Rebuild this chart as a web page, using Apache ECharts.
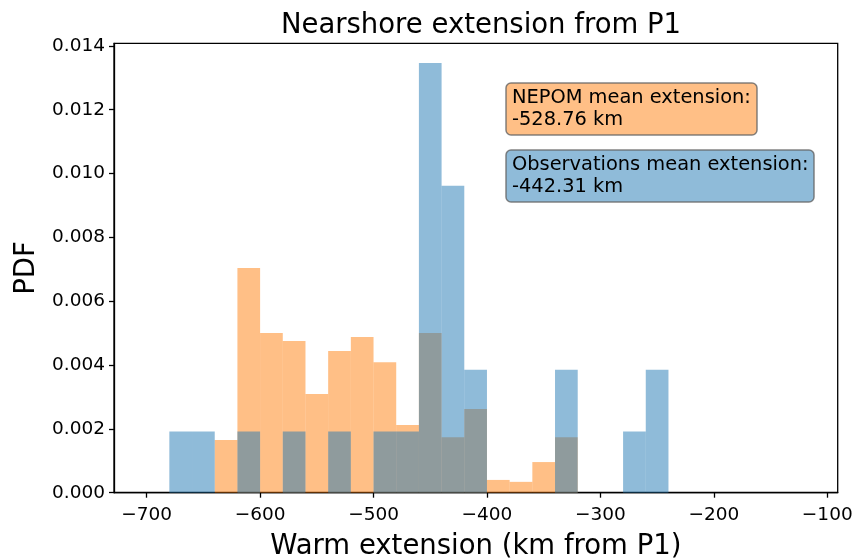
<!DOCTYPE html>
<html>
<head>
<meta charset="utf-8">
<script src="https://cdn.jsdelivr.net/npm/echarts@6/dist/echarts.min.js"></script>
<style>
  html, body { margin: 0; padding: 0; background: #fff; }
  #chart { width: 858px; height: 558px; }
</style>
</head>
<body>
<div id="chart"></div>
<script>
// Histogram bin width (km)
const binWidth = 20;

// NEPOM model: left bin edges (km from P1) and probability density
const nepomLeft = [-640, -620, -600, -580, -560, -540, -520, -500, -480, -460, -440, -420, -400, -380, -360, -340];
const nepomPdf  = [0.00165, 0.00704, 0.00500, 0.00475, 0.00309, 0.00444, 0.00488, 0.00409, 0.00212, 0.00500, 0.00174, 0.00262, 0.00040, 0.00034, 0.00096, 0.00174];

// Observations: left bin edges (km from P1) and probability density
const obsLeft = [-680, -660, -620, -580, -540, -500, -480, -460, -440, -420, -340, -280, -260];
const obsPdf  = [0.00192, 0.00192, 0.00192, 0.00192, 0.00192, 0.00192, 0.00192, 0.01346, 0.00962, 0.00385, 0.00385, 0.00192, 0.00385];

// Mean extensions (km)
const nepomMean = -528.76;
const obsMean = -442.31;

// Axis ticks
const xTicks = [-700, -600, -500, -400, -300, -200, -100];
const yTicks = [0, 0.002, 0.004, 0.006, 0.008, 0.010, 0.012, 0.014];

const FONT = '"DejaVu Sans", sans-serif';
const ORANGE = 'rgba(255,127,14,0.5)';
const BLUE = 'rgba(31,119,180,0.5)';

function toBars(left, pdf) {
  return left.map((x, i) => [x, x + binWidth, pdf[i]]);
}

function renderBar(params, api) {
  const p0 = api.coord([api.value(0), api.value(2)]);
  const p1 = api.coord([api.value(1), 0]);
  return {
    type: 'rect',
    shape: { x: p0[0], y: p0[1], width: p1[0] - p0[0], height: p1[1] - p0[1] },
    style: { fill: api.visual('color') }
  };
}

const minus = v => (v < 0 ? '\u2212' + Math.abs(v) : String(v));

const chart = echarts.init(document.getElementById('chart'), null, { renderer: 'canvas' });

chart.setOption({
  animation: false,
  backgroundColor: '#fff',
  title: [
    {
      text: 'Nearshore extension from P1',
      left: 476, top: 7, textAlign: 'center',
      textStyle: { fontFamily: FONT, fontSize: 27.5, fontWeight: 'normal', color: '#000' }
    },
    {
      text: 'NEPOM mean extension:\n' + nepomMean.toFixed(2) + ' km',
      left: 506, top: 83,
      backgroundColor: ORANGE,
      borderColor: 'rgba(100,100,100,0.8)', borderWidth: 1.5, borderRadius: 5,
      padding: [4, 6, 4, 6],
      textStyle: { fontFamily: FONT, fontSize: 19.4, fontWeight: 'normal', color: '#000', lineHeight: 22 }
    },
    {
      text: 'Observations mean extension:\n' + obsMean.toFixed(2) + ' km',
      left: 506, top: 150,
      backgroundColor: BLUE,
      borderColor: 'rgba(100,100,100,0.8)', borderWidth: 1.5, borderRadius: 5,
      padding: [4, 6, 4, 6],
      textStyle: { fontFamily: FONT, fontSize: 19.4, fontWeight: 'normal', color: '#000', lineHeight: 22 }
    }
  ],
  grid: {
    left: 114, right: 20.3, top: 43.3, bottom: 65.3,
    outerBoundsMode: 'none',
    show: true, borderColor: '#000', borderWidth: 1.3, backgroundColor: 'transparent'
  },
  xAxis: {
    type: 'value', min: -728.8, max: -90.8,
    name: 'Warm extension (km from P1)',
    nameLocation: 'middle', nameGap: 40,
    nameTextStyle: { fontFamily: FONT, fontSize: 27.5, color: '#000' },
    splitLine: { show: false },
    axisLine: { show: true, lineStyle: { color: '#000', width: 1.3 } },
    axisTick: { show: true, length: 5, lineStyle: { color: '#000', width: 1.3 }, customValues: xTicks },
    axisLabel: { customValues: xTicks, formatter: minus, margin: 13,
      fontFamily: FONT, fontSize: 18.5, color: '#000' }
  },
  yAxis: {
    type: 'value', min: 0, max: 0.01408,
    name: 'PDF',
    nameLocation: 'middle', nameGap: 66, nameRotate: 90,
    nameTextStyle: { fontFamily: FONT, fontSize: 27.5, color: '#000' },
    splitLine: { show: false },
    axisLine: { show: true, lineStyle: { color: '#000', width: 1.3 } },
    axisTick: { show: true, length: 5, lineStyle: { color: '#000', width: 1.3 }, customValues: yTicks },
    axisLabel: { customValues: yTicks, formatter: v => v.toFixed(3), margin: 9,
      fontFamily: FONT, fontSize: 18.5, color: '#000' }
  },
  series: [
    {
      name: 'NEPOM', type: 'custom', renderItem: renderBar,
      itemStyle: { color: ORANGE },
      encode: { x: [0, 1], y: 2 },
      data: toBars(nepomLeft, nepomPdf)
    },
    {
      name: 'Observations', type: 'custom', renderItem: renderBar,
      itemStyle: { color: BLUE },
      encode: { x: [0, 1], y: 2 },
      data: toBars(obsLeft, obsPdf)
    }
  ]
});
</script>
</body>
</html>
